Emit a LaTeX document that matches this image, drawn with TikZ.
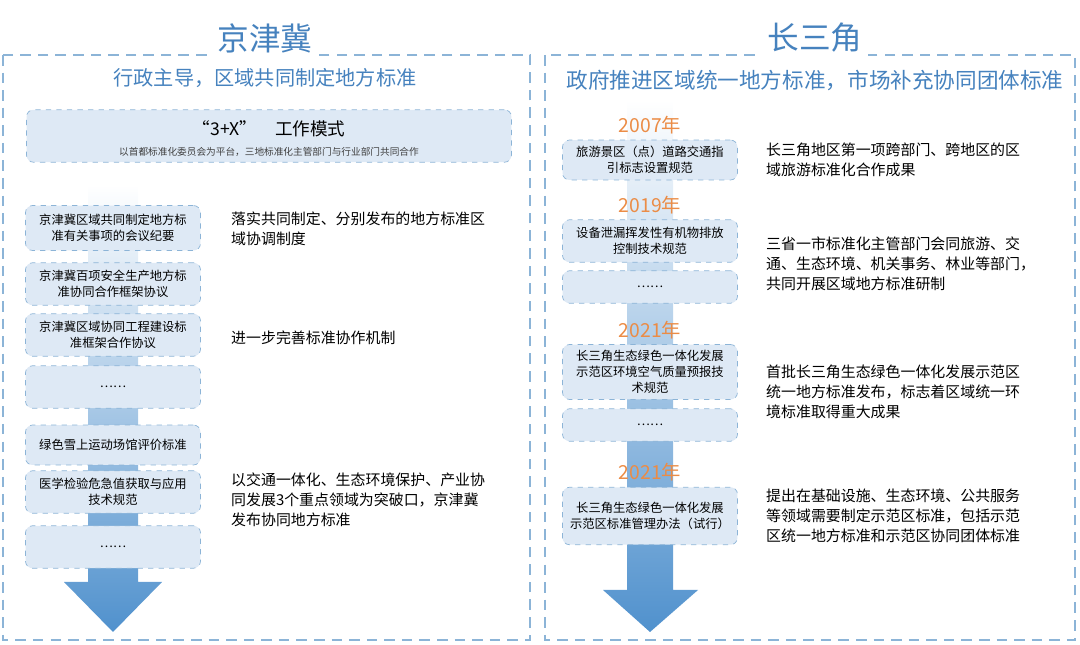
\documentclass[tikz,border=0pt]{standalone}
\usepackage{fontspec}
\setmainfont{Noto Sans CJK SC}
\usetikzlibrary{positioning,shadings}
\definecolor{lineblue}{RGB}{140,180,215}
\definecolor{boxfill}{RGB}{222,233,245}
\definecolor{titleblue}{RGB}{70,130,190}
\definecolor{arrowblue}{RGB}{80,145,205}
\definecolor{yearorange}{RGB}{235,140,70}
\begin{document}
\begin{tikzpicture}[
        x=0.02cm, y=-0.02cm,
        panel/.style={draw=lineblue, dashed, line width=1.2pt, dash pattern=on 6pt off 4pt},
        itembox/.style={draw=lineblue, dashed, rounded corners=4pt, fill=boxfill, minimum width=3.5cm,
            align=center, font=\fontsize{7}{9}\selectfont, inner sep=2pt},
        note/.style={anchor=west, align=left, font=\fontsize{8.5}{11.5}\selectfont},
        headline/.style={text=titleblue, font=\fontsize{18}{20}\selectfont\itshape},
        subline/.style={text=titleblue, font=\fontsize{11.5}{13}\selectfont},
        year/.style={text=yearorange, font=\fontsize{11}{12}\selectfont\itshape},
        flow/.style={top color=white, bottom color=arrowblue, draw=none},
    ]
    \useasboundingbox (0,0) rectangle (1080,645);
    % panels
    \draw[panel] (3,55) rectangle (530,640);
    \draw[panel] (545,55) rectangle (1075,640);
    \node[headline, fill=white] (bjt) at (265,38) {京津冀};
    \node[headline, fill=white] (csj) at (815,38) {长三角};
    \node[subline] (bjtsub) at (265,78) {行政主导，区域共同制定地方标准};
    \node[subline, font=\fontsize{12.3}{13}\selectfont] (csjsub) at (815,80) {政府推进区域统一地方标准，市场补充协同团体标准};
    % left flow arrow
    \shade[flow] (88,185) -- (138,185) -- (138,582) -- (162,582) -- (113,632) -- (64,582) -- (88,582) -- cycle;
    \node[itembox, minimum width=9.7cm, minimum height=1.05cm] (mode) at (269,136) {};
    \node[font=\fontsize{10}{12}\selectfont] (modet) at (269,129) {“3+X”\quad 工作模式};
    \node[font=\fontsize{5.5}{7}\selectfont, text=black!75] (modes) at (269,152) {以首都标准化委员会为平台，三地标准化主管部门与行业部门共同合作};
    % left items
    \node[itembox, minimum height=0.9cm] (l1) at (113,228) {京津冀区域共同制定地方标\\准有关事项的会议纪要};
    \node[itembox, minimum height=0.85cm] (l2) at (113,284) {京津冀百项安全生产地方标\\准协同合作框架协议};
    \node[itembox, minimum height=0.85cm] (l3) at (113,335) {京津冀区域协同工程建设标\\准框架合作协议};
    \node[itembox, minimum height=0.85cm] (l4) at (113,387) {……};
    \node[itembox, minimum height=0.8cm] (l5) at (113,445) {绿色雪上运动场馆评价标准};
    \node[itembox, minimum height=0.85cm] (l6) at (113,492) {医学检验危急值获取与应用\\技术规范};
    \node[itembox, minimum height=0.85cm] (l7) at (113,547) {……};
    \node[note] (n1) at (225,229) {落实共同制定、分别发布的地方标准区\\域协调制度};
    \node[note] (n2) at (225,338) {进一步完善标准协作机制};
    \node[note] (n3) at (225,500) {以交通一体化、生态环境保护、产业协\\同发展3个重点领域为突破口，京津冀\\发布协同地方标准};
    % right flow arrow
    \shade[flow] (627,100) -- (673,100) -- (673,590) -- (698,590) -- (650,632) -- (603,590) -- (627,590) -- cycle;
    \node[year] (y1) at (650,125) {2007年};
    \node[itembox, minimum height=0.8cm] (r1) at (650,160) {旅游景区（点）道路交通指\\引标志设置规范};
    \node[year] (y2) at (650,205) {2019年};
    \node[itembox, minimum height=0.85cm] (r2) at (650,241) {设备泄漏挥发性有机物排放\\控制技术规范};
    \node[itembox, minimum height=0.65cm] (r3) at (650,287) {……};
    \node[year] (y3) at (650,330) {2021年};
    \node[itembox, minimum height=1.1cm] (r4) at (650,372) {长三角生态绿色一体化发展\\示范区环境空气质量预报技\\术规范};
    \node[itembox, minimum height=0.65cm] (r5) at (650,425) {……};
    \node[year] (y4) at (650,472) {2021年};
    \node[itembox, minimum height=1.15cm] (r6) at (650,516) {长三角生态绿色一体化发展\\示范区标准管理办法（试行）};
    \node[note] (m1) at (760,160) {长三角地区第一项跨部门、跨地区的区\\域旅游标准化合作成果};
    \node[note] (m2) at (760,264) {三省一市标准化主管部门会同旅游、交\\通、生态环境、机关事务、林业等部门，\\共同开展区域地方标准研制};
    \node[note] (m3) at (760,392) {首批长三角生态绿色一体化发展示范区\\统一地方标准发布，标志着区域统一环\\境标准取得重大成果};
    \node[note] (m4) at (760,516) {提出在基础设施、生态环境、公共服务\\等领域需要制定示范区标准，包括示范\\区统一地方标准和示范区协同团体标准};
\end{tikzpicture}
\end{document}
